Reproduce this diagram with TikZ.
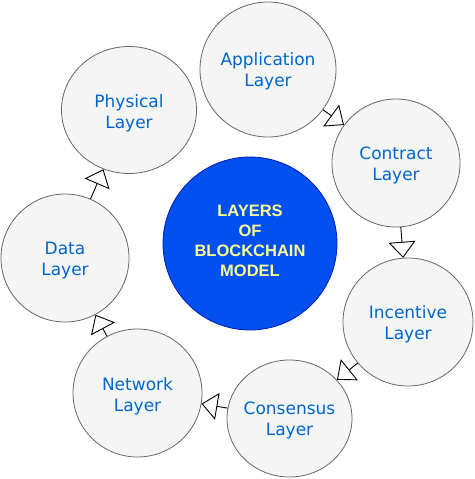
\documentclass[tikz,border=0pt]{standalone}
\usepackage{fontspec}
\setmainfont{DejaVu Sans}
\newfontfamily\coresans{Liberation Sans}
\usetikzlibrary{arrows.meta,shapes.geometric}
\definecolor{lyrfill}{HTML}{F5F5F5}
\definecolor{lyrline}{HTML}{666666}
\definecolor{lyrtext}{HTML}{0066CC}
\definecolor{corefill}{HTML}{0050EF}
\definecolor{coreline}{HTML}{001DBC}
\definecolor{coretext}{HTML}{FFFF99}
\begin{document}
\begin{tikzpicture}[x=1pt,y=-1pt,
  layer/.style={ellipse, draw=lyrline, fill=lyrfill, line width=0.8pt, inner sep=0pt},
  lbl/.style={text=lyrtext, align=center, inner sep=0pt, font=\fontsize{17}{21}\selectfont},
  core/.style={ellipse, draw=coreline, fill=corefill, line width=0.8pt, inner sep=0pt,
    minimum width=174pt, minimum height=173pt},
  coretxt/.style={text=coretext, align=center, inner sep=0pt, font=\coresans\bfseries\fontsize{16.5}{20}\selectfont},
  flow/.style={draw=black, line width=0.9pt, -{Triangle[open, length=16pt, width=27pt]}},
]
\useasboundingbox (0,0) rectangle (474,479);

% layer circles
\node[layer, minimum width=136pt, minimum height=135pt] (app) at (268,69.5) {};
\node[layer, minimum width=128pt, minimum height=128pt] (con) at (396,163) {};
\node[layer, minimum width=130pt, minimum height=128pt] (inc) at (408,322) {};
\node[layer, minimum width=125pt, minimum height=117pt] (cns) at (289.5,418.5) {};
\node[layer, minimum width=129pt, minimum height=128pt] (net) at (137.5,393) {};
\node[layer, minimum width=128pt, minimum height=128pt] (dat) at (65,258) {};
\node[layer, minimum width=135pt, minimum height=127pt] (phy) at (129,110) {};

% central circle
\node[core] (core) at (250,243.5) {};
\node[coretxt] (coreT) at (250,241) {LAYERS\\OF\\BLOCKCHAIN\\MODEL};

% labels
\node[lbl] (appT) at (268,71.5) {Application\\Layer};
\node[lbl] (conT) at (396,165.5) {Contract\\Layer};
\node[lbl] (incT) at (408,324.5) {Incentive\\Layer};
\node[lbl] (cnsT) at (289.5,420.5) {Consensus\\Layer};
\node[lbl] (netT) at (137.5,396) {Network\\Layer};
\node[lbl] (datT) at (65,260.5) {Data\\Layer};
\node[lbl] (phyT) at (129,113) {Physical\\Layer};

% connectors
\draw[flow] (app) -- (con);
\draw[flow] (con) -- (inc);
\draw[flow] (inc) -- (cns);
\draw[flow] (cns) -- (net);
\draw[flow] (net) -- (dat);
\draw[flow] (dat) -- (phy);
\end{tikzpicture}
\end{document}
